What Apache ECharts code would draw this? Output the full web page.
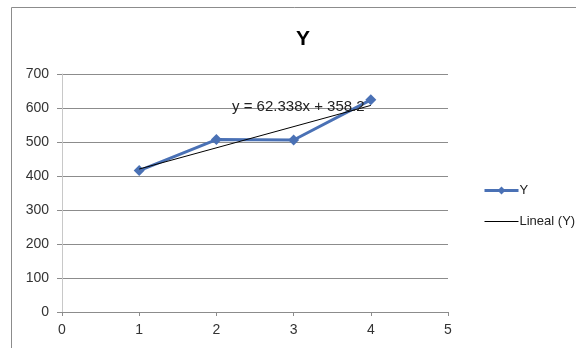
<!DOCTYPE html>
<html>
<head>
<meta charset="utf-8">
<title>Y</title>
<script src="https://cdn.jsdelivr.net/npm/echarts@6/dist/echarts.min.js"></script>
<style>
  html, body { margin: 0; padding: 0; background: #fff; }
  #container { width: 576px; height: 348px; }
</style>
</head>
<body>
<div id="container"></div>
<script type="text/javascript">
// data
var xValues = [1, 2, 3, 4];
var yValues = [416, 507, 506, 624];
// Excel linear trendline (Lineal) as printed on the chart
var trendSlope = 62.338;
var trendIntercept = 358.2;
var xTicks = [0, 1, 2, 3, 4, 5];
var yTicks = [0, 100, 200, 300, 400, 500, 600, 700];

var pts = xValues.map(function (x, i) { return [x, yValues[i]]; });
var x0 = xValues[0], x1 = xValues[xValues.length - 1];
var trend = [[x0, trendSlope * x0 + trendIntercept], [x1, trendSlope * x1 + trendIntercept]];
var eqText = 'y = ' + trendSlope + 'x + ' + trendIntercept;

var font = '"Liberation Sans", "DejaVu Sans", sans-serif';
var myChart = echarts.init(document.getElementById('container'));
myChart.setOption({
  animation: false,
  backgroundColor: '#fff',
  title: {
    text: 'Y',
    left: 298, top: 24,
    textAlign: 'center',
    textStyle: { fontFamily: font, fontSize: 21, fontWeight: 'bold', color: '#000' }
  },
  grid: { left: 62, right: 128, top: 74, bottom: 36 },
  xAxis: {
    type: 'value',
    min: xTicks[0], max: xTicks[xTicks.length - 1], interval: 1,
    axisLine: { show: true, lineStyle: { color: '#8c8c8c', width: 1 } },
    axisTick: { show: true, length: 4, lineStyle: { color: '#8c8c8c' } },
    axisLabel: { margin: 11, fontFamily: font, fontSize: 14, color: '#333' },
    splitLine: { show: false }
  },
  yAxis: {
    type: 'value',
    min: yTicks[0], max: yTicks[yTicks.length - 1], interval: 100,
    axisLine: { show: true, lineStyle: { color: '#c8c8c8', width: 1 } },
    axisTick: { show: true, length: 5, lineStyle: { color: '#8c8c8c' } },
    axisLabel: { margin: 13, fontFamily: font, fontSize: 14, color: '#333' },
    splitLine: { show: true, lineStyle: { color: '#8c8c8c', width: 1 } }
  },
  legend: {
    orient: 'vertical',
    left: 478, top: 179,
    itemWidth: 34, itemHeight: 10, itemGap: 18,
    textStyle: { fontFamily: font, fontSize: 13, color: '#222', padding: [0, 0, 0, -4] },
    data: [
      { name: 'Y', lineStyle: { width: 3 } },
      { name: 'Lineal (Y)', lineStyle: { width: 1 } }
    ]
  },
  series: [
    {
      name: 'Y',
      type: 'line',
      data: pts,
      symbol: 'diamond',
      symbolSize: 11,
      itemStyle: { color: '#4a71b5' },
      lineStyle: { color: '#4a71b5', width: 3 },
      z: 2
    },
    {
      name: 'Lineal (Y)',
      type: 'line',
      data: trend,
      symbol: 'none',
      itemStyle: { color: 'rgba(0,0,0,0)' },
      lineStyle: { color: '#000', width: 1 },
      z: 3
    }
  ],
  graphic: [
    {
      type: 'rect',
      shape: { x: 11.5, y: 7.5, width: 600, height: 400 },
      style: { fill: 'none', stroke: '#8c8c8c', lineWidth: 1 },
      silent: true
    },
    {
      type: 'text',
      left: 232, top: 99,
      style: { text: eqText, font: '15px ' + font, fill: '#222' },
      z: 10
    }
  ]
});
</script>
</body>
</html>
